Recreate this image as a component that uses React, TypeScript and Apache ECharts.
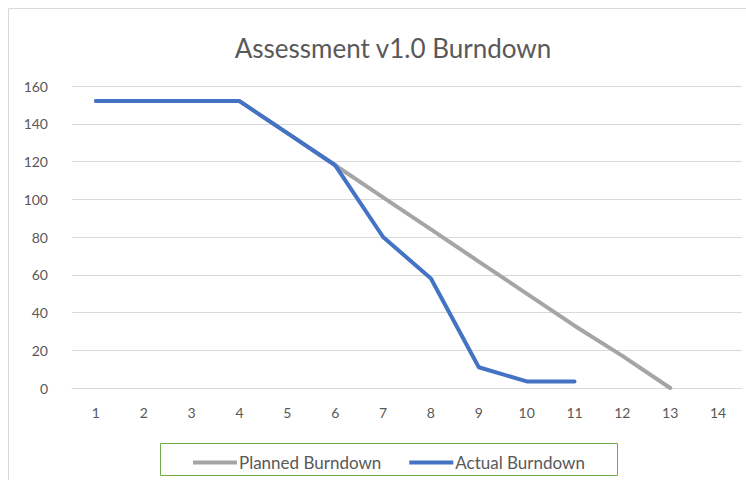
import React, { useEffect, useRef } from "react";
import * as echarts from "echarts";

const categories = ["1", "2", "3", "4", "5", "6", "7", "8", "9", "10", "11", "12", "13", "14"];
const planned = [152, 152, 152, 152, 135, 118, 101, 84, 67, 50, 33, 17, 0];
const actual = [152, 152, 152, 152, 135, 118, 80, 58, 11, 3.5, 3.5];
const seriesNames = ["Planned Burndown", "Actual Burndown"];
const titleText = "Assessment v1.0 Burndown";

const FONT = "Lato, 'Open Sans', sans-serif";
const TXT = "#595959";

export default function App() {
  const ref = useRef<HTMLDivElement>(null);
  useEffect(() => {
    document.body.style.margin = "0";
    const chart = echarts.init(ref.current!, null, { renderer: "svg" });
    chart.setOption({
      animation: false,
      backgroundColor: "#fff",
      title: {
        text: titleText,
        left: 388,
        textAlign: "center",
        top: 30,
        textStyle: { fontFamily: FONT, fontSize: 26, fontWeight: "normal", color: TXT },
      },
      graphic: [
        {
          type: "rect",
          shape: { x: 8.5, y: 8.5, width: 800, height: 600 },
          style: { fill: "none", stroke: "#D9D9D9", lineWidth: 1 },
          silent: true,
        },
        {
          type: "rect",
          shape: { x: 160.5, y: 443.5, width: 457, height: 32 },
          style: { fill: "none", stroke: "#70AD47", lineWidth: 1 },
          silent: true,
        },
      ],
      legend: {
        data: seriesNames,
        left: 188,
        top: 449,
        itemWidth: 44,
        itemHeight: 4,
        itemGap: 28,
        icon: "rect",
        textStyle: { fontFamily: FONT, fontSize: 17, color: TXT, padding: [0, 0, 0, -3] },
      },
      grid: { left: 72, right: 4, top: 86, bottom: 92 },
      xAxis: {
        type: "category",
        data: categories,
        boundaryGap: true,
        axisLine: { lineStyle: { color: "#D9D9D9" } },
        axisTick: { show: false },
        axisLabel: { fontFamily: FONT, fontSize: 14, color: TXT, margin: 17 },
      },
      yAxis: {
        type: "value",
        min: 0,
        max: 160,
        interval: 20,
        axisLine: { show: false },
        axisTick: { show: false },
        splitLine: { lineStyle: { color: "#D9D9D9" } },
        axisLabel: { fontFamily: FONT, fontSize: 14, color: TXT, margin: 24 },
      },
      series: [
        {
          name: seriesNames[0],
          type: "line",
          data: planned,
          symbol: "none",
          lineStyle: { color: "#A5A5A5", width: 4, cap: "round", join: "round" },
          itemStyle: { color: "#A5A5A5" },
        },
        {
          name: seriesNames[1],
          type: "line",
          data: actual,
          symbol: "none",
          lineStyle: { color: "#4472C4", width: 4, cap: "round", join: "round" },
          itemStyle: { color: "#4472C4" },
        },
      ],
    });
    return () => chart.dispose();
  }, []);
  return <div ref={ref} style={{ width: 746, height: 480 }} />;
}
